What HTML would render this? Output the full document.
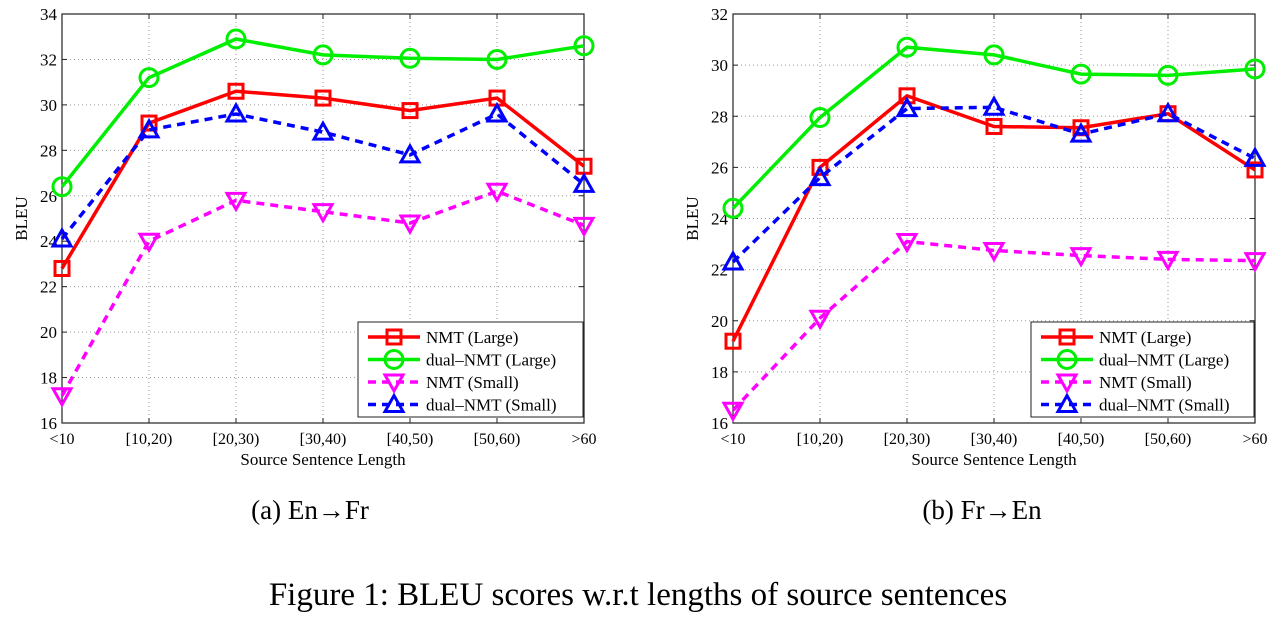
<!DOCTYPE html>
<html><head><meta charset="utf-8"><style>
body{margin:0;background:#fff;width:1280px;height:626px;overflow:hidden}
svg{font-family:"Liberation Serif",serif}
</style></head><body>
<svg id="s" width="1280" height="626" xmlns="http://www.w3.org/2000/svg"></svg>
<script>
const S=document.getElementById('s');let h='';
const cats=['<10','[10,20)','[20,30)','[30,40)','[40,50)','[50,60)','>60'];
function plot(L,R,ymin,ymax,data,lx){
 const T=14,B=423,W=(R-L)/6,Y=v=>T+(ymax-v)*(B-T)/(ymax-ymin);
 for(let i=1;i<6;i++){const x=L+i*W;h+=`<line x1="${x}" y1="${T}" x2="${x}" y2="${B}" stroke="#999" stroke-dasharray="1,3"/>`;}
 for(let v=ymin+2;v<ymax;v+=2){const y=Y(v);h+=`<line x1="${L}" y1="${y}" x2="${R}" y2="${y}" stroke="#999" stroke-dasharray="1,3"/>`;}
 h+=`<rect x="${L}" y="${T}" width="${R-L}" height="${B-T}" fill="none" stroke="#222" stroke-width="1.2"/>`;
 for(let v=ymin;v<=ymax;v+=2){const y=Y(v);h+=`<line x1="${L}" y1="${y}" x2="${L+5}" y2="${y}" stroke="#222"/><line x1="${R-5}" y1="${y}" x2="${R}" y2="${y}" stroke="#222"/><text x="${L-5}" y="${y+6}" font-size="17" text-anchor="end">${v}</text>`;}
 cats.forEach((c,i)=>{const x=L+i*W;h+=`<line x1="${x}" y1="${B}" x2="${x}" y2="${B-5}" stroke="#222"/><line x1="${x}" y1="${T}" x2="${x}" y2="${T+5}" stroke="#222"/><text x="${x}" y="${B+21}" font-size="16" text-anchor="middle">${c.replace('<','&lt;').replace('>','&gt;')}</text>`;});
 h+=`<text x="${(L+R)/2}" y="${B+42}" font-size="17" text-anchor="middle">Source Sentence Length</text>`;
 h+=`<text transform="translate(${L-35},${(T+B)/2}) rotate(-90)" font-size="17" text-anchor="middle">BLEU</text>`;
 const st=[['red','','s'],['#00ee00','','o'],['magenta','8,6','v'],['blue','8,6','^']];
 function mk(x,y,m,c){
  if(m=='s')return `<rect x="${x-7}" y="${y-7}" width="14" height="14" fill="none" stroke="${c}" stroke-width="3"/>`;
  if(m=='o')return `<circle cx="${x}" cy="${y}" r="9" fill="none" stroke="${c}" stroke-width="3"/>`;
  if(m=='v')return `<polygon points="${x-9},${y-7} ${x+9},${y-7} ${x},${y+9}" fill="none" stroke="${c}" stroke-width="3"/>`;
  return `<polygon points="${x-9},${y+7} ${x+9},${y+7} ${x},${y-9}" fill="none" stroke="${c}" stroke-width="3"/>`;
 }
 data.forEach((d,k)=>{const [c,da,m]=st[k];const p=d.map((v,i)=>`${L+i*W},${Y(v)}`).join(' ');
  h+=`<polyline points="${p}" fill="none" stroke="${c}" stroke-width="3.5" ${da?`stroke-dasharray="${da}"`:''}/>`;
  d.forEach((v,i)=>h+=mk(L+i*W,Y(v),m,c));});
 const lt=322,lb=417;h+=`<rect x="${lx}" y="${lt}" width="${R-1-lx}" height="${lb-lt}" fill="#fff" stroke="#222"/>`;
 const names=['NMT (Large)','dual\u2013NMT (Large)','NMT (Small)','dual\u2013NMT (Small)'];
 names.forEach((n,k)=>{const y=lt+15+k*22.5;const [c,da,m]=st[k];
  h+=`<line x1="${lx+10}" y1="${y}" x2="${lx+62}" y2="${y}" stroke="${c}" stroke-width="3.5" ${da?`stroke-dasharray="8,6"`:''}/>`+mk(lx+36,y,m,c)+`<text x="${lx+68}" y="${y+6}" font-size="17">${n}</text>`;});
}
plot(62,584,16,34,[[22.8,29.2,30.6,30.3,29.75,30.3,27.3],[26.4,31.2,32.9,32.2,32.05,32.0,32.6],[17.2,24.0,25.8,25.3,24.8,26.2,24.7],[24.1,28.9,29.6,28.8,27.8,29.6,26.5]],358);
plot(733,1255,16,32,[[19.2,26.0,28.8,27.6,27.55,28.1,25.9],[24.4,27.95,30.7,30.4,29.65,29.6,29.85],[16.5,20.1,23.1,22.75,22.55,22.4,22.35],[22.3,25.6,28.3,28.35,27.3,28.1,26.35]],1031);
h+=`<text x="310" y="519" font-size="27" text-anchor="middle">(a)  En\u2192Fr</text>`;
h+=`<text x="982" y="519" font-size="27" text-anchor="middle">(b)  Fr\u2192En</text>`;
h+=`<text x="638" y="605" font-size="33" text-anchor="middle">Figure 1: BLEU scores w.r.t lengths of source sentences</text>`;
S.innerHTML=h;
</script>
</body></html>
